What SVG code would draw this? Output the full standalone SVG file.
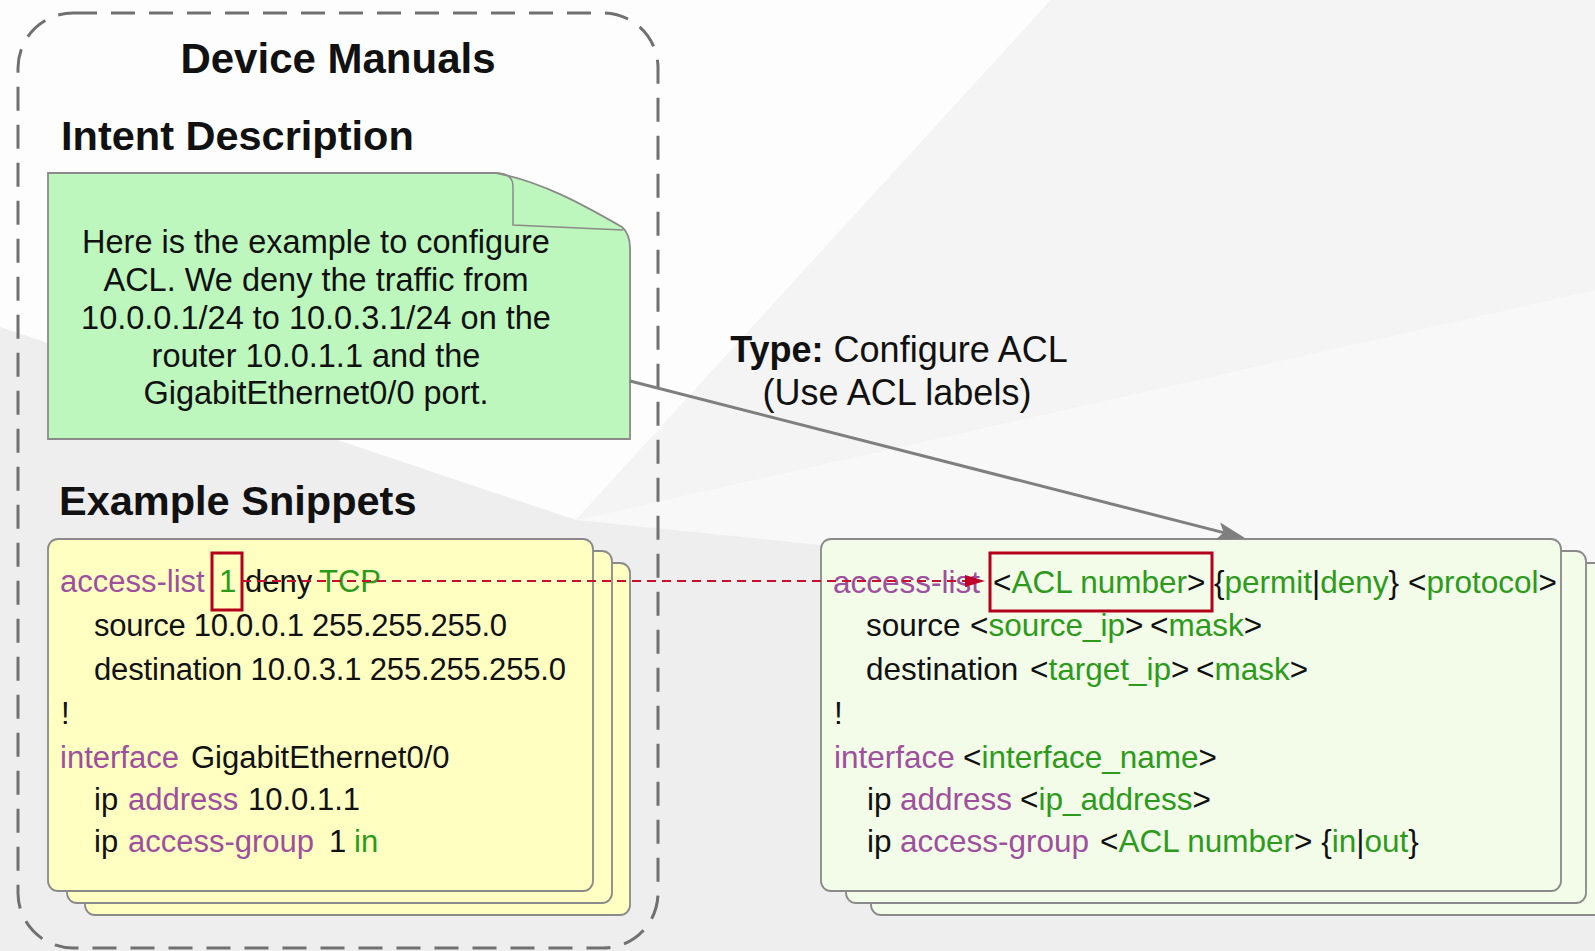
<svg xmlns="http://www.w3.org/2000/svg" width="1595" height="951" viewBox="0 0 1595 951">
<defs>
<style>
text{font-family:"Liberation Sans",Arial,Helvetica,sans-serif;fill:#111;}
.title{font-size:42px;font-weight:bold;}
.head{font-size:41.5px;font-weight:bold;}
.note{font-size:32.5px;text-anchor:middle;}
.codeL{font-size:31px;}
.codeR{font-size:31.5px;}
.lbl{font-size:36px;text-anchor:middle;}
.p{fill:#9e4f9e;}
.g{fill:#2e9a1c;}
.card{stroke:#8a8a8a;stroke-width:1.8;}
.yel{fill:#ffffc2;}
.grn{fill:#f2fce9;}
.hl{fill:none;stroke:#b3001b;stroke-width:3;}
</style>
<marker id="grayHead" markerUnits="userSpaceOnUse" markerWidth="30" markerHeight="20" refX="8" refY="9" orient="auto">
<path d="M0,0 L28,9 L0,18 L6,9 Z" fill="#7f7f7f"/>
</marker>
<marker id="redHead" markerUnits="userSpaceOnUse" markerWidth="22" markerHeight="14" refX="10" refY="6" orient="auto">
<path d="M0,0 L20,6 L0,12 Z" fill="#c0002a"/>
</marker>
</defs>
<g id="background">
<rect x="0" y="0" width="1595" height="951" fill="#eeeeee"/>
<polygon points="0,0 1051,0 576,520 0,327" fill="#fdfdfd"/>
<polygon points="1051,0 1595,0 1595,290 576,520" fill="#f4f4f4"/>
<polygon points="576,520 1595,290 1595,600 820,545" fill="#f8f8f8"/>
</g>
<g id="device-manuals">
<rect x="18" y="13" width="640" height="935" rx="55" ry="55" fill="none" stroke="#707070" stroke-width="3" stroke-dasharray="24 14"/>
<text class="title" x="338" y="73" text-anchor="middle">Device Manuals</text>
</g>
<g id="intent-description">
<text class="head" x="61" y="150">Intent Description</text>
<path d="M48,173 H496 C540,181 582,204 622,227 Q630,234 630,248 V439 H48 Z" fill="#bef7bd" stroke="#8a8a8a" stroke-width="1.8"/>
<path d="M497,173 Q513,174 513,186 V225 L623,230" fill="none" stroke="#8a8a8a" stroke-width="1.5"/>
<text class="note" x="316" y="253">Here is the example to configure</text>
<text class="note" x="316" y="291">ACL. We deny the traffic from</text>
<text class="note" x="316" y="329">10.0.0.1/24 to 10.0.3.1/24 on the</text>
<text class="note" x="316" y="367">router 10.0.1.1 and the</text>
<text class="note" x="316" y="404">GigabitEthernet0/0 port.</text>
</g>
<g id="example-snippets">
<text class="head" x="59" y="515">Example Snippets</text>
<rect class="card yel" x="85" y="563" width="545" height="352" rx="10"/>
<rect class="card yel" x="67" y="551" width="545" height="352" rx="10"/>
<rect class="card yel" x="48" y="539" width="545" height="352" rx="10"/>
<text class="codeL" y="592"><tspan class="p" x="60">access-list</tspan><tspan class="g" x="219">1</tspan><tspan x="245">deny</tspan><tspan class="g" x="319">TCP</tspan></text>
<text class="codeL" x="94" y="636" textLength="413">source 10.0.0.1 255.255.255.0</text>
<text class="codeL" x="94" y="680" textLength="472">destination 10.0.3.1 255.255.255.0</text>
<text class="codeL" x="61" y="724">!</text>
<text class="codeL" y="768"><tspan class="p" x="60">interface</tspan><tspan x="191">GigabitEthernet0/0</tspan></text>
<text class="codeL" y="810"><tspan x="94">ip</tspan><tspan class="p" x="128">address</tspan><tspan x="248">10.0.1.1</tspan></text>
<text class="codeL" y="852"><tspan x="94">ip</tspan><tspan class="p" x="128">access-group</tspan><tspan x="329">1</tspan><tspan class="g" x="354">in</tspan></text>
<rect class="hl" x="212" y="553" width="30" height="57"/>
</g>
<g id="acl-template">
<rect class="card grn" x="871" y="563" width="740" height="352" rx="10"/>
<rect class="card grn" x="846" y="551" width="740" height="352" rx="10"/>
<rect class="card grn" x="821" y="539" width="740" height="352" rx="10"/>
<text class="codeR" y="593"><tspan class="p" x="833">access-list</tspan><tspan x="993">&lt;</tspan><tspan class="g">ACL number</tspan><tspan>&gt;</tspan><tspan x="1214">{</tspan><tspan class="g">permit</tspan><tspan>|</tspan><tspan class="g">deny</tspan><tspan>}</tspan><tspan x="1408">&lt;</tspan><tspan class="g">protocol</tspan><tspan>&gt;</tspan></text>
<text class="codeR" y="636"><tspan x="866">source</tspan><tspan x="970">&lt;</tspan><tspan class="g">source_ip</tspan><tspan>&gt;</tspan><tspan x="1150">&lt;</tspan><tspan class="g">mask</tspan><tspan>&gt;</tspan></text>
<text class="codeR" y="680"><tspan x="866">destination</tspan><tspan x="1030">&lt;</tspan><tspan class="g">target_ip</tspan><tspan>&gt;</tspan><tspan x="1196">&lt;</tspan><tspan class="g">mask</tspan><tspan>&gt;</tspan></text>
<text class="codeR" x="834" y="724">!</text>
<text class="codeR" y="768"><tspan class="p" x="834">interface</tspan><tspan x="963">&lt;</tspan><tspan class="g">interface_name</tspan><tspan>&gt;</tspan></text>
<text class="codeR" y="810"><tspan x="867">ip</tspan><tspan class="p" x="900">address</tspan><tspan x="1020">&lt;</tspan><tspan class="g">ip_address</tspan><tspan>&gt;</tspan></text>
<text class="codeR" y="852"><tspan x="867">ip</tspan><tspan class="p" x="900">access-group</tspan><tspan x="1100">&lt;</tspan><tspan class="g">ACL number</tspan><tspan>&gt; {</tspan><tspan class="g">in</tspan><tspan>|</tspan><tspan class="g">out</tspan><tspan>}</tspan></text>
<rect class="hl" x="990" y="553" width="222" height="58"/>
</g>
<g id="connectors">
<line x1="630" y1="381" x2="1225.6" y2="533.1" stroke="#7f7f7f" stroke-width="3" marker-end="url(#grayHead)"/>
<text class="lbl" y="362"><tspan x="899"><tspan font-weight="bold">Type:</tspan> Configure ACL</tspan></text>
<text class="lbl" x="897" y="405">(Use ACL labels)</text>
<line x1="242" y1="581" x2="975" y2="581" stroke="#c8102e" stroke-width="2" stroke-dasharray="9 6" marker-end="url(#redHead)"/>
</g>
</svg>
